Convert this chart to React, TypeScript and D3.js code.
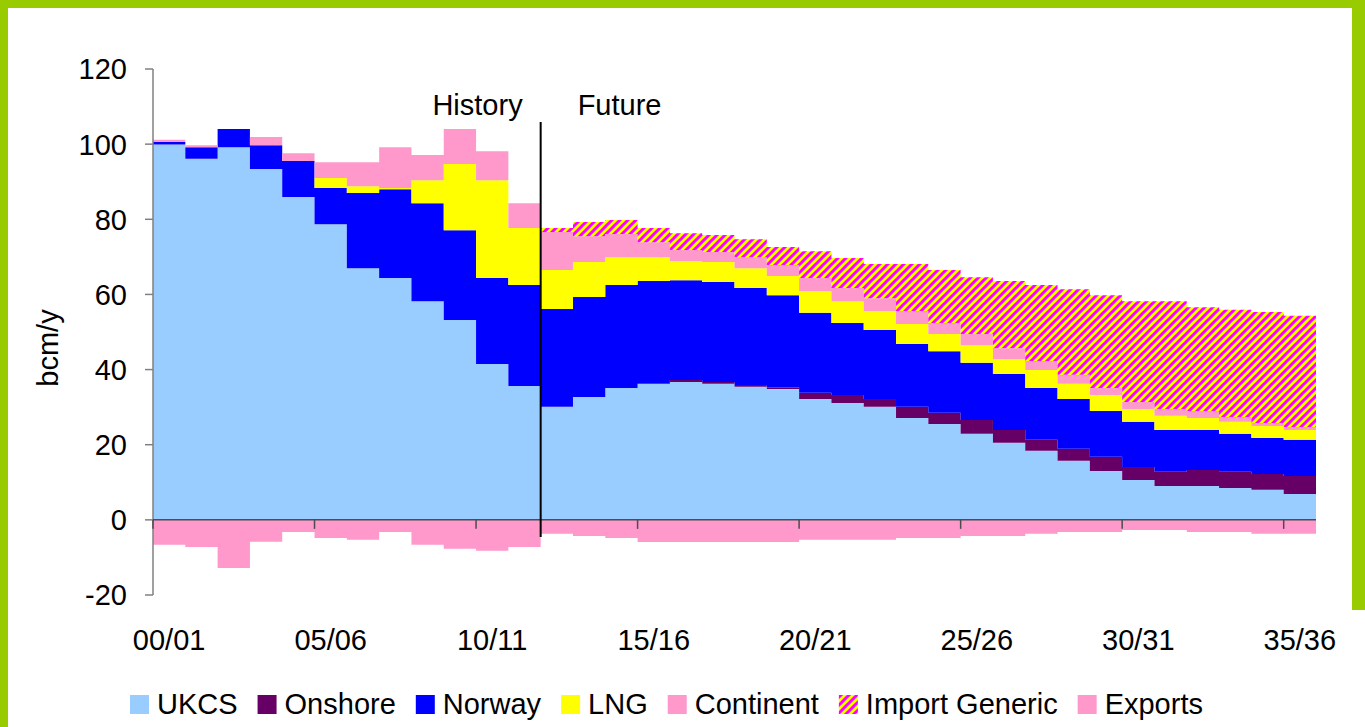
import * as d3 from "d3";
import { useMemo } from "react";

const WIDTH = 1365;
const HEIGHT = 727;
const FONT = "'Liberation Sans', Arial, sans-serif";
const FONT_SIZE = 29;

const categories = [
  "00/01", "01/02", "02/03", "03/04", "04/05", "05/06", "06/07", "07/08", "08/09", "09/10",
  "10/11", "11/12", "12/13", "13/14", "14/15", "15/16", "16/17", "17/18", "18/19", "19/20",
  "20/21", "21/22", "22/23", "23/24", "24/25", "25/26", "26/27", "27/28", "28/29", "29/30",
  "30/31", "31/32", "32/33", "33/34", "34/35", "35/36",
];
const tickLabels = ["00/01", "05/06", "10/11", "15/16", "20/21", "25/26", "30/31", "35/36"];
const yTicks = [-20, 0, 20, 40, 60, 80, 100, 120];
const futureStart = "12/13";

// bcm/y by gas year
const ukcs = [
  99.9, 96.1, 99.2, 93.4, 85.9, 78.7, 67.0, 64.4, 58.2, 53.2, 41.5, 35.6,
  30.1, 32.7, 35.1, 36.2, 36.7, 36.2, 35.4, 34.8, 32.2, 31.1, 30.1, 27.1,
  25.5, 22.9, 20.5, 18.4, 15.7, 13.0, 10.6, 9.0, 9.0, 8.5, 8.0, 6.9,
];
const onshore = [
  0, 0, 0, 0, 0, 0, 0, 0, 0, 0, 0, 0,
  0, 0, 0, 0, 0.5, 0.5, 0.5, 0.4, 1.6, 2.1, 2.1, 3.0,
  3.0, 3.7, 3.4, 2.9, 3.2, 3.8, 3.5, 3.8, 4.3, 4.3, 4.2, 4.8,
];
const norway = [
  0.7, 3.1, 4.8, 6.3, 9.6, 9.6, 20.0, 23.6, 26.1, 23.9, 22.9, 26.9,
  26.0, 26.6, 27.4, 27.4, 26.6, 26.6, 25.8, 24.6, 21.3, 19.2, 18.3, 16.7,
  16.4, 15.2, 14.9, 13.8, 13.3, 12.2, 12.0, 11.1, 10.6, 10.1, 9.6, 9.6,
];
const lng = [
  0, 0, 0, 0, 0, 2.7, 1.8, 0.3, 6.1, 17.6, 26.0, 15.2,
  10.4, 9.3, 7.4, 6.3, 5.1, 5.3, 5.3, 5.1, 5.8, 5.8, 5.1, 5.3,
  4.6, 4.7, 4.0, 4.8, 4.0, 4.2, 3.4, 3.8, 3.2, 3.2, 3.2, 2.6,
];
const continent = [
  0.6, 0.5, 0, 2.2, 2.1, 4.2, 6.4, 10.9, 6.7, 9.3, 7.7, 6.6,
  10.1, 6.9, 6.2, 4.0, 2.9, 2.7, 2.9, 2.9, 3.5, 3.5, 3.4, 3.5,
  2.9, 3.0, 2.9, 2.4, 2.4, 1.9, 1.9, 1.8, 1.9, 1.3, 0.8, 0.8,
];
const importGeneric = [
  0, 0, 0, 0, 0, 0, 0, 0, 0, 0, 0, 0,
  1.1, 3.8, 3.7, 3.8, 4.5, 4.5, 4.8, 4.8, 7.1, 8.0, 9.1, 12.5,
  14.1, 15.1, 17.9, 20.2, 22.8, 24.7, 26.8, 28.7, 27.6, 28.5, 29.5, 29.6,
];
const exportFlows = [
  -6.6, -7.2, -12.8, -5.8, -3.2, -4.8, -5.3, -3.2, -6.6, -7.7, -8.2, -7.2,
  -3.7, -4.3, -4.8, -5.9, -5.9, -5.9, -5.9, -5.9, -5.3, -5.3, -5.3, -4.8,
  -4.8, -4.3, -4.3, -3.7, -3.2, -3.2, -2.7, -2.7, -3.2, -3.2, -3.7, -3.7,
];

const seriesKeys = ["UKCS", "Onshore", "Norway", "LNG", "Continent", "Import Generic"];
const legendNames = [...seriesKeys, "Exports"];
const colors: Record<string, string> = {
  UKCS: "#99ccff",
  Onshore: "#660066",
  Norway: "#0000ff",
  LNG: "#ffff00",
  Continent: "#ff99cc",
  "Import Generic": "url(#hatch)",
  Exports: "#ff99cc",
};

const rows = categories.map((category, i) => ({
  category,
  UKCS: ukcs[i],
  Onshore: onshore[i],
  Norway: norway[i],
  LNG: lng[i],
  Continent: continent[i],
  "Import Generic": importGeneric[i],
}));

const margin = { left: 153, right: 1316, top: 69, bottom: 595 };

function measureText(text: string) {
  const ctx = document.createElement("canvas").getContext("2d");
  if (!ctx) return text.length * FONT_SIZE * 0.55;
  ctx.font = `${FONT_SIZE}px ${FONT}`;
  return ctx.measureText(text).width;
}

export default function App() {
  const x = d3.scaleBand().domain(categories).range([margin.left, margin.right]).padding(0);
  const y = d3.scaleLinear().domain([-20, 120]).range([margin.bottom, margin.top]);
  const bw = x.bandwidth();

  const stacked = d3.stack<any>().keys(seriesKeys)(rows);

  // step area: each band contributes its left and right edge
  const stepArea = d3
    .area<{ x: number; y0: number; y1: number }>()
    .x((p) => p.x)
    .y0((p) => y(p.y0))
    .y1((p) => y(p.y1));

  const toSteps = (vals: { cat: string; y0: number; y1: number }[]) =>
    vals.flatMap((v) => [
      { x: x(v.cat)!, y0: v.y0, y1: v.y1 },
      { x: x(v.cat)! + bw, y0: v.y0, y1: v.y1 },
    ]);

  const layers = stacked.map((s) => ({
    key: s.key,
    d: stepArea(toSteps(s.map((d) => ({ cat: d.data.category, y0: d[0], y1: d[1] })))) ?? "",
  }));
  const exportPath =
    stepArea(toSteps(categories.map((cat, i) => ({ cat, y0: 0, y1: exportFlows[i] })))) ?? "";

  const legend = useMemo(() => {
    let cursor = 130;
    return legendNames.map((name) => {
      const item = { name, x: cursor };
      cursor += 27 + measureText(name) + 20;
      return item;
    });
  }, []);

  const divX = x(futureStart)!;
  const tickIdx = tickLabels.map((t) => categories.indexOf(t));

  return (
    <div style={{ position: "absolute", left: 0, top: 0 }}>
      <svg width={WIDTH} height={HEIGHT} style={{ display: "block", fontFamily: FONT }}>
        <defs>
          <pattern id="hatch" patternUnits="userSpaceOnUse" width={8} height={8}>
            <rect width={8} height={8} fill="#ffff00" />
            <path d="M-2,2 l4,-4 M0,8 l8,-8 M6,10 l4,-4" stroke="#ff00ff" strokeWidth={3} />
          </pattern>
        </defs>
        <rect width={WIDTH} height={HEIGHT} fill="#ffffff" />
        <rect x={0} y={0} width={8} height={HEIGHT} fill="#99cc00" />
        <rect x={0} y={0} width={WIDTH} height={8} fill="#99cc00" />
        <rect x={1352} y={0} width={13} height={610} fill="#99cc00" />

        {layers.map((l) => (
          <path key={l.key} d={l.d} fill={colors[l.key]} />
        ))}
        <path d={exportPath} fill={colors.Exports} />

        {/* y axis */}
        <line x1={margin.left} x2={margin.left} y1={y(120)} y2={y(-20)} stroke="#808080" strokeWidth={1.5} />
        {yTicks.map((t) => (
          <g key={t}>
            <line x1={margin.left - 8} x2={margin.left} y1={y(t)} y2={y(t)} stroke="#808080" strokeWidth={1.5} />
            <text x={127} y={y(t)} dy="0.36em" textAnchor="end" fontSize={FONT_SIZE} fill="#000">
              {t}
            </text>
          </g>
        ))}
        <text
          transform={`translate(48,348) rotate(-90)`}
          textAnchor="middle"
          dy="0.35em"
          fontSize={FONT_SIZE}
          fill="#000"
        >
          bcm/y
        </text>

        {/* x axis on zero line */}
        <line x1={margin.left} x2={margin.right} y1={y(0)} y2={y(0)} stroke="#4d4d4d" strokeWidth={1.5} />
        {tickIdx.map((i) => (
          <line key={i} x1={x(categories[i])!} x2={x(categories[i])!} y1={y(0)} y2={y(0) + 9} stroke="#4d4d4d" strokeWidth={1.5} />
        ))}
        {tickLabels.map((t) => (
          <text key={t} x={x(t)! + bw / 2} y={650} textAnchor="middle" fontSize={FONT_SIZE} fill="#000">
            {t}
          </text>
        ))}

        {/* history / future divider */}
        <line x1={divX} x2={divX} y1={122} y2={537} stroke="#000" strokeWidth={2} />
        <text x={divX - 18} y={115} textAnchor="end" fontSize={FONT_SIZE} fill="#000">
          History
        </text>
        <text x={divX + 37} y={115} textAnchor="start" fontSize={FONT_SIZE} fill="#000">
          Future
        </text>

        {/* legend */}
        {legend.map((item) => (
          <g key={item.name}>
            <rect x={item.x} y={695} width={19} height={19} fill={colors[item.name]} />
            <text x={item.x + 27} y={714} fontSize={FONT_SIZE} fill="#000">
              {item.name}
            </text>
          </g>
        ))}
      </svg>
    </div>
  );
}
